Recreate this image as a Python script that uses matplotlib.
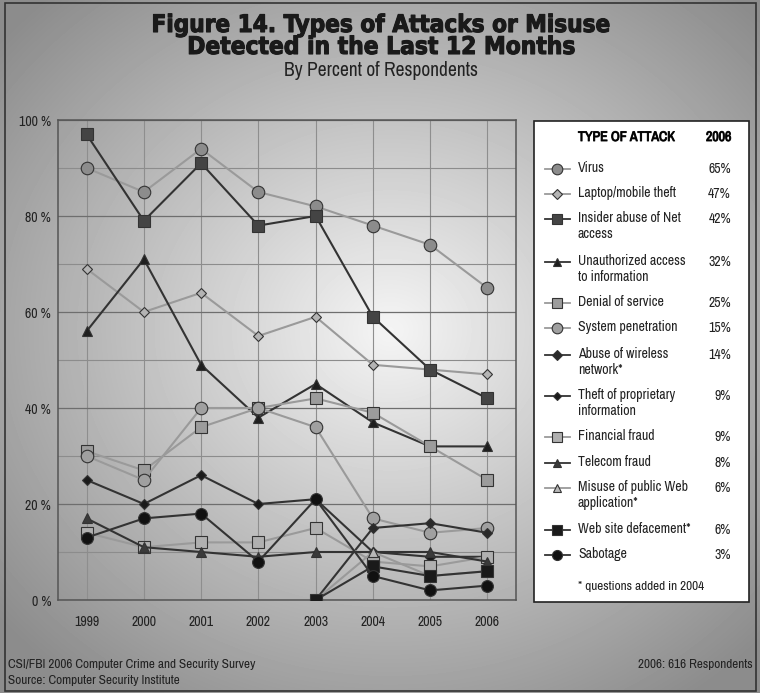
import numpy as np
import matplotlib
matplotlib.use("Agg")
import matplotlib.pyplot as plt
from matplotlib import font_manager as fm
from matplotlib import patheffects as pe
from matplotlib.lines import Line2D
from matplotlib.patches import Rectangle


def wnum(w):
    if isinstance(w, (int, float)):
        return w
    return {"bold": 700, "heavy": 800, "black": 900, "extra bold": 800, "demibold": 600,
            "semibold": 600, "ultrabold": 800}.get(str(w).lower(), 400)


# look for a narrow face for body text and a condensed bold face for the title
narrow = None
cond_bold = None
for f in fm.fontManager.ttflist:
    if narrow is None and ("Narrow" in f.name or "Condensed" in f.name):
        narrow = f.name
    st = str(f.stretch)
    if cond_bold is None and wnum(f.weight) >= 600 and \
            (st in ("condensed", "semi-condensed", "extra-condensed") or
             (isinstance(f.stretch, int) and f.stretch < 500)):
        cond_bold = f.name
if narrow:
    plt.rcParams['font.family'] = [narrow, 'DejaVu Sans']
    fs = 10
else:
    plt.rcParams['font.family'] = ['DejaVu Sans']
    fs = 8


def heavy(width, color="#1a1a1a"):
    return [pe.withStroke(linewidth=width, foreground=color)]


years = [1999, 2000, 2001, 2002, 2003, 2004, 2005, 2006]
nan = np.nan

virus = [90, 85, 94, 85, 82, 78, 74, 65]
laptop = [69, 60, 64, 55, 59, 49, 48, 47]
insider = [97, 79, 91, 78, 80, 59, 48, 42]
unauthorized = [56, 71, 49, 38, 45, 37, 32, 32]
denial = [31, 27, 36, 40, 42, 39, 32, 25]
penetration = [30, 25, 40, 40, 36, 17, 14, 15]
wireless = [nan, nan, nan, nan, 0, 15, 16, 14]
theft = [25, 20, 26, 20, 21, 10, 9, 9]
financial = [14, 11, 12, 12, 15, 8, 7, 9]
telecom = [17, 11, 10, 9, 10, 10, 10, 8]
misuse = [nan, nan, nan, nan, 0, 10, 5, 6]
defacement = [nan, nan, nan, nan, 0, 7, 5, 6]
sabotage = [13, 17, 18, 8, 21, 5, 2, 3]

labels = ["Virus", "Laptop/mobile theft", "Insider abuse of Net\naccess",
          "Unauthorized access\nto information", "Denial of service",
          "System penetration", "Abuse of wireless\nnetwork*",
          "Theft of proprietary\ninformation", "Financial fraud", "Telecom fraud",
          "Misuse of public Web\napplication*", "Web site defacement*", "Sabotage"]
pct_2006 = ["65%", "47%", "42%", "32%", "25%", "15%", "14%", "9%", "9%", "8%", "6%", "6%", "3%"]

series = [virus, laptop, insider, unauthorized, denial, penetration, wireless,
          theft, financial, telecom, misuse, defacement, sabotage]

# line colour, marker, marker fill, marker size
light = "#9a9a9a"
dark = "#333333"
styles = [
    (light, "o", "#8c8c8c", 9),
    (light, "D", "#b4b4b4", 5.5),
    (dark, "s", "#444444", 8.5),
    (dark, "^", "#1e1e1e", 7.5),
    (light, "s", "#9c9c9c", 8.5),
    (light, "o", "#a0a0a0", 9),
    (dark, "D", "#2a2a2a", 5.5),
    (dark, "D", "#1a1a1a", 5),
    (light, "s", "#b0b0b0", 8.5),
    (dark, "^", "#3a3a3a", 7.5),
    (light, "^", "#b8b8b8", 7.5),
    (dark, "s", "#1a1a1a", 8.5),
    (dark, "o", "#111111", 8.5),
]

fig = plt.figure(figsize=(7.6, 6.93), dpi=100)

# radial grey background
bg = fig.add_axes([0, 0, 1, 1], zorder=-5)
yy, xx = np.mgrid[0:693, 0:760]
r = np.sqrt(((xx - 390) / 520.0) ** 2 + ((yy - 330) / 460.0) ** 2)
img = np.clip(0.96 - 0.42 * r, 0.55, 1.0)
bg.imshow(img, cmap="gray", vmin=0, vmax=1, aspect="auto", extent=[0, 760, 693, 0])
bg.set_xlim(0, 760)
bg.set_ylim(693, 0)
bg.axis("off")
bg.add_patch(Rectangle((5, 3), 751, 688, fill=False, edgecolor="#333333", lw=1.2))

ax = fig.add_axes([58 / 760, 1 - 600 / 693, 458 / 760, 480 / 693])
ax.set_facecolor("none")
for s, (lc, mk, mf, ms) in zip(series, styles):
    ax.plot(years, s, color=lc, lw=1.5, marker=mk, markerfacecolor=mf,
            markeredgecolor="#333333", markeredgewidth=0.8, markersize=ms, zorder=3)

ax.set_xlim(1998.5, 2006.5)
ax.set_ylim(0, 100)
ax.set_xticks(years)
ax.set_xticklabels([str(y) for y in years], fontsize=fs)
ax.set_yticks([0, 20, 40, 60, 80, 100])
ax.set_yticklabels(["0 %", "20 %", "40 %", "60 %", "80 %", "100 %"], fontsize=fs)
ax.set_yticks(range(10, 100, 20), minor=True)
ax.tick_params(length=0, which="both", labelcolor="#222222")
ax.tick_params(axis="x", pad=11)
ax.tick_params(axis="y", pad=5)
ax.grid(True, which="major", axis="y", color="#6e6e6e", lw=0.9)
ax.grid(True, which="minor", axis="y", color="#8c8c8c", lw=0.8)
ax.grid(True, which="major", axis="x", color="#8e8e8e", lw=0.8)
for sp in ax.spines.values():
    sp.set_color("#555555")
    sp.set_linewidth(1.1)

# titles
if cond_bold:
    tkw = dict(family=[cond_bold, 'DejaVu Sans'], fontstretch="condensed", fontweight="bold",
               path_effects=heavy(0.8))
else:
    tkw = dict(fontweight="bold", path_effects=heavy(1.0))
t1 = fig.text(381 / 760, 1 - 25 / 693, "Figure 14. Types of Attacks or Misuse", ha="center", va="center",
              fontsize=16, color="#1a1a1a", **tkw)
t2 = fig.text(381 / 760, 1 - 47 / 693, "Detected in the Last 12 Months", ha="center", va="center",
              fontsize=16, color="#1a1a1a", **tkw)
t3 = fig.text(381 / 760, 1 - 71 / 693, "By Percent of Respondents", ha="center", va="center",
              fontsize=13, color="#222222")
# size the title lines to the widths they have in the original, within a height limit
rend = fig.canvas.get_renderer()
for t, target, hmax in ((t1, 460, 17.5), (t2, 396, 17.5), (t3, 210, 14)):
    w = t.get_window_extent(rend).width
    t.set_fontsize(min(t.get_fontsize() * target / w, hmax))

# legend box
lg = fig.add_axes([0, 0, 1, 1], zorder=2)
lg.set_xlim(0, 760)
lg.set_ylim(693, 0)
lg.axis("off")
lg.add_patch(Rectangle((534, 121), 215, 481, facecolor="white", edgecolor="#222222", lw=1.2))
lg.text(578, 137, "TYPE OF ATTACK", fontsize=fs, fontweight="bold", va="center", ha="left",
        path_effects=heavy(0.7))
lg.text(731, 137, "2006", fontsize=fs, fontweight="bold", va="center", ha="right",
        path_effects=heavy(0.7))
rows = [169, 194, 219, 262, 303, 328, 355, 396, 437, 463, 488, 530, 555]
for yr, lab, pc, (lc, mk, mf, ms) in zip(rows, labels, pct_2006, styles):
    lg.add_line(Line2D([545, 570], [yr, yr], color=lc, lw=1.3))
    lg.plot([557], [yr], marker=mk, markerfacecolor=mf, markeredgecolor="#333333",
            markeredgewidth=0.8, markersize=ms * 0.85)
    lg.text(578, yr - 8, lab, fontsize=fs, va="top", ha="left", linespacing=1.2, color="#222222")
    lg.text(731, yr, pc, fontsize=fs, va="center", ha="right", color="#222222")
lg.text(641, 587, "* questions added in 2004", fontsize=fs - 0.5, va="center", ha="center",
        color="#222222")

# footer
fig.text(8 / 760, 1 - 665 / 693, "CSI/FBI 2006 Computer Crime and Security Survey", fontsize=fs - 0.5,
         va="center", ha="left", color="#222222")
fig.text(8 / 760, 1 - 681 / 693, "Source: Computer Security Institute", fontsize=fs - 0.5,
         va="center", ha="left", color="#222222")
fig.text(753 / 760, 1 - 665 / 693, "2006: 616 Respondents", fontsize=fs - 0.5, va="center", ha="right",
         color="#222222")

fig.savefig("out.png", dpi=100)
